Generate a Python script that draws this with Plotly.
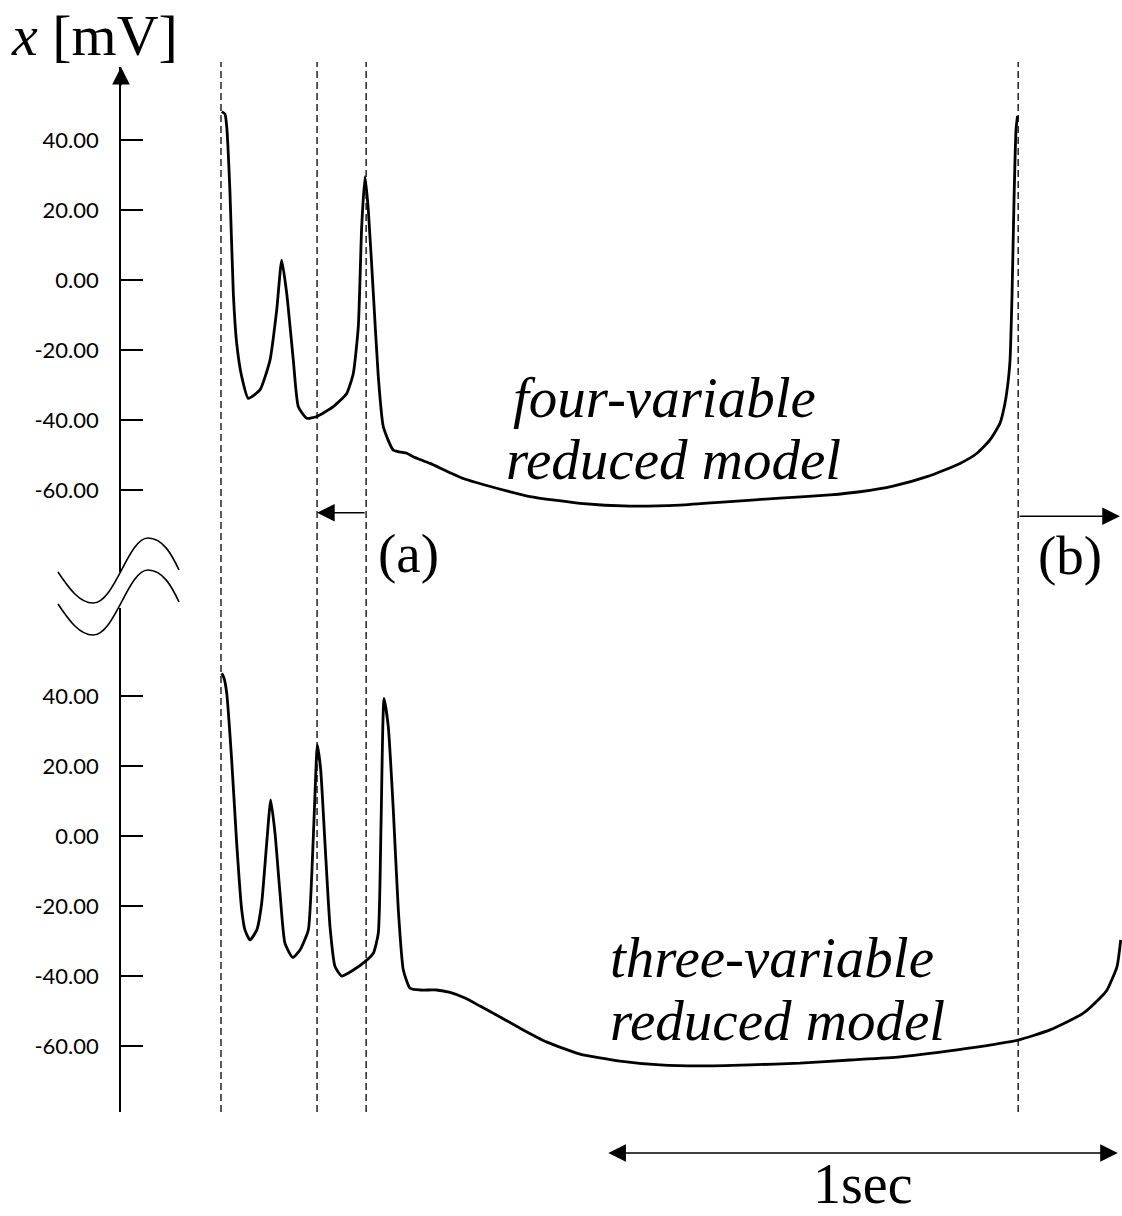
import plotly.graph_objects as go

# Membrane potential traces: time in ms (0 = first spike), potential x in mV
four_t = [1.4, 7.8, 11.2, 17.6, 24.1, 30.7, 40.5, 53.4, 76.3, 95.9,
          109.0, 118.8, 128.6, 141.5, 151.3, 167.7, 187.3, 219.8, 246.0, 258.9,
          268.7, 275.3, 281.8, 288.3, 298.1, 307.8, 317.6, 337.2, 363.4, 376.3,
          409.0, 474.2, 539.5, 604.7, 702.5, 800.4, 898.2, 996.1, 1093.9, 1191.8,
          1250.5, 1315.1, 1381.6, 1446.2, 1479.5, 1504.9, 1524.5, 1534.2, 1540.7, 1544.1,
          1548.0, 1551.9, 1555.8, 1558.7]
four_v = [48.1, 47.4, 43.8, 24.9, -3.8, -18.1, -27.6, -33.8, -31.4, -22.9,
          -8.6, 5.7, -3.8, -22.9, -36.2, -39.5, -39.0, -36.2, -32.4, -26.7,
          -13.3, 15.2, 29.5, 20.0, -3.8, -27.6, -41.9, -48.6, -49.5, -50.5,
          -52.4, -56.7, -59.5, -61.9, -63.8, -64.6, -64.3, -63.3, -62.3, -61.4,
          -60.5, -58.9, -56.2, -52.4, -49.5, -45.7, -40.9, -35.2, -28.6, -22.9,
          -4.3, 22.9, 42.9, 46.9]

three_t = [1.4, 5.9, 11.2, 20.9, 30.7, 40.5, 47.0, 56.8, 69.9, 79.6,
           89.4, 97.3, 105.7, 115.5, 125.2, 140.3, 154.6, 170.8, 177.5, 184.0,
           188.5, 195.1, 203.5, 213.3, 223.1, 236.2, 258.9, 281.8, 298.1, 307.8,
           313.1, 319.0, 327.4, 337.2, 347.0, 356.8, 369.9, 389.4, 422.1, 448.2,
           477.5, 506.9, 546.0, 585.1, 638.0, 702.6, 780.8, 859.1, 937.4, 1035.3,
           1133.1, 1231.0, 1328.8, 1459.9, 1559.7, 1622.3, 1686.9, 1720.2, 1733.9, 1753.5,
           1760.7]
three_v = [46.5, 45.1, 40.8, 21.7, -2.1, -21.1, -26.9, -29.7, -26.9, -19.2,
           -2.1, 10.3, 0.8, -16.4, -30.7, -34.7, -32.6, -26.9, -11.6, 12.2,
           26.0, 18.9, -2.1, -25.9, -37.3, -40.0, -38.3, -35.9, -33.5, -27.8,
           2.7, 39.3, 31.2, 7.4, -21.1, -38.3, -43.5, -44.0, -44.0, -44.7,
           -46.3, -48.6, -51.7, -54.9, -58.9, -62.3, -64.3, -65.4, -65.7, -65.4,
           -64.9, -64.0, -63.1, -60.7, -58.3, -55.4, -50.7, -46.3, -44.0, -37.3,
           -29.7]

# reference instants (ms) marked by dashed lines
marker_times = [0, 188, 284, 1560]
# interval (a): burst end shift, interval (b): next burst onset
interval_a = [284, 188]
interval_b = [1560, 1759]
scale_bar_start, scale_bar_len = 755, 1000  # 1 s scale bar

ytick_vals = [40, 20, 0, -20, -40, -60]
ytick_text = ["40.00", "20.00", "0.00", "-20.00", "-40.00", "-60.00"]

# ---- layout geometry (pixels)
W, H = 1122, 1216
AXIS_PX, T0_PX = 121, 221
PX_PER_MS = 0.511
PX_PER_MV = 3.5
TOP_ZERO_PX, BOT_ZERO_PX = 280, 836
TOP_SPAN, BOT_SPAN = (67, 572), (608, 1112)


def t_at(px):
    return (px - T0_PX) / PX_PER_MS


def paper_y(py):
    return (H - py) / H


def paper_x(px):
    return (px - AXIS_PX) / (W - AXIS_PX)


def v_range(zero_px, span):
    return [(zero_px - span[1]) / PX_PER_MV, (zero_px - span[0]) / PX_PER_MV]


x_range = [t_at(AXIS_PX), t_at(W)]
top_range = v_range(TOP_ZERO_PX, TOP_SPAN)
bot_range = v_range(BOT_ZERO_PX, BOT_SPAN)

trace_line = dict(color="black", width=2.8, shape="spline", smoothing=0.5)

fig = go.Figure()
fig.add_trace(go.Scatter(x=four_t, y=four_v, mode="lines", line=trace_line,
                         xaxis="x", yaxis="y", hoverinfo="skip"))
fig.add_trace(go.Scatter(x=three_t, y=three_v, mode="lines", line=trace_line,
                         xaxis="x2", yaxis="y2", hoverinfo="skip"))

y_common = dict(
    showline=True, linecolor="black", linewidth=1.6,
    ticks="inside", ticklen=22, tickwidth=1.8, tickcolor="black",
    tickvals=ytick_vals, ticktext=ytick_text,
    tickfont=dict(family="Lato", size=22, color="black"),
    ticklabelstandoff=16,
    showgrid=False, zeroline=False, fixedrange=True,
)

fig.update_layout(
    width=W, height=H,
    margin=dict(l=AXIS_PX, r=0, t=0, b=0),
    paper_bgcolor="white", plot_bgcolor="white",
    showlegend=False,
    xaxis=dict(domain=[0, 1], range=x_range, visible=False, anchor="y"),
    xaxis2=dict(domain=[0, 1], range=x_range, visible=False, anchor="y2", matches="x"),
    yaxis=dict(domain=[paper_y(TOP_SPAN[1]), paper_y(TOP_SPAN[0])], range=top_range,
               anchor="x", **y_common),
    yaxis2=dict(domain=[paper_y(BOT_SPAN[1]), paper_y(BOT_SPAN[0])], range=bot_range,
                anchor="x2", **y_common),
)

# dashed reference lines through both panels
for tm in marker_times:
    fig.add_shape(type="line", xref="x", yref="paper", x0=tm, x1=tm,
                  y0=paper_y(1112), y1=paper_y(62),
                  line=dict(color="black", width=1.3, dash="7px,4px"))


# axis break symbol: two parallel wavy strokes across the potential axis
def wave_path(dy):
    pts = [(58, 572), (70, 590), (80, 603), (93, 603), (115, 603), (128, 538),
           (148, 538), (163, 538), (172, 555), (179, 570)]
    p = [(paper_x(x), paper_y(y + dy)) for x, y in pts]
    s = "M {:.5f},{:.5f}".format(*p[0])
    for i in range(1, len(p), 3):
        s += " C {:.5f},{:.5f} {:.5f},{:.5f} {:.5f},{:.5f}".format(*p[i], *p[i + 1], *p[i + 2])
    return s


for dy in (0, 32):
    fig.add_shape(type="path", xref="paper", yref="paper", path=wave_path(dy),
                  line=dict(color="black", width=1.6))

arrow_style = dict(text="", showarrow=True, arrowhead=2, arrowsize=2.2,
                   arrowwidth=1.6, arrowcolor="black", standoff=0)

# arrow head on top of the potential axis
fig.add_annotation(xref="paper", yref="y", x=0, y=top_range[1], ax=0, ay=20,
                   axref="pixel", ayref="pixel", **arrow_style)

# interval arrows (a) and (b)
arrow_v = -66.5
fig.add_annotation(xref="x", yref="y", x=interval_a[1], y=arrow_v, ax=interval_a[0], ay=arrow_v,
                   axref="x", ayref="y", **arrow_style)
fig.add_annotation(xref="x", yref="y", x=interval_b[1], y=arrow_v - 1, ax=interval_b[0], ay=arrow_v - 1,
                   axref="x", ayref="y", **arrow_style)

# 1 s scale bar
fig.add_annotation(xref="x", yref="paper", x=scale_bar_start + scale_bar_len, y=paper_y(1153),
                   ax=scale_bar_start, ay=0, axref="x", ayref="pixel",
                   arrowside="end+start", startarrowhead=2, startarrowsize=2.2, startstandoff=0,
                   **arrow_style)

serif = "Liberation Serif"
texts = [
    dict(xref="paper", yref="paper", x=paper_x(94), y=paper_y(36),
         text="<i>x</i> [mV]", size=58, yanchor="middle"),
    dict(xref="x", yref="y", x=867, y=-33.7, text="<i>four-variable</i>", size=57, yanchor="middle"),
    dict(xref="x", yref="y", x=885, y=-51.4, text="<i>reduced model</i>", size=57, yanchor="middle"),
    dict(xref="x", yref="y2", x=1078, y=-34.6, text="<i>three-variable</i>", size=57, yanchor="middle"),
    dict(xref="x", yref="y2", x=1090, y=-52.6, text="<i>reduced model</i>", size=57, yanchor="middle"),
    dict(xref="x", yref="y", x=366, y=-78.0, text="(a)", size=55, yanchor="middle"),
    dict(xref="x", yref="y", x=1661, y=-78.6, text="(b)", size=55, yanchor="middle"),
    dict(xref="x", yref="paper", x=scale_bar_start + scale_bar_len / 2 + 2, y=0,
         text="1sec", size=56, yanchor="bottom"),
]
for t in texts:
    fig.add_annotation(xref=t["xref"], yref=t["yref"], x=t["x"], y=t["y"], text=t["text"],
                       showarrow=False, xanchor="center", yanchor=t["yanchor"], borderpad=0,
                       font=dict(family=serif, size=t["size"], color="black"))

fig.write_html("out.html")
